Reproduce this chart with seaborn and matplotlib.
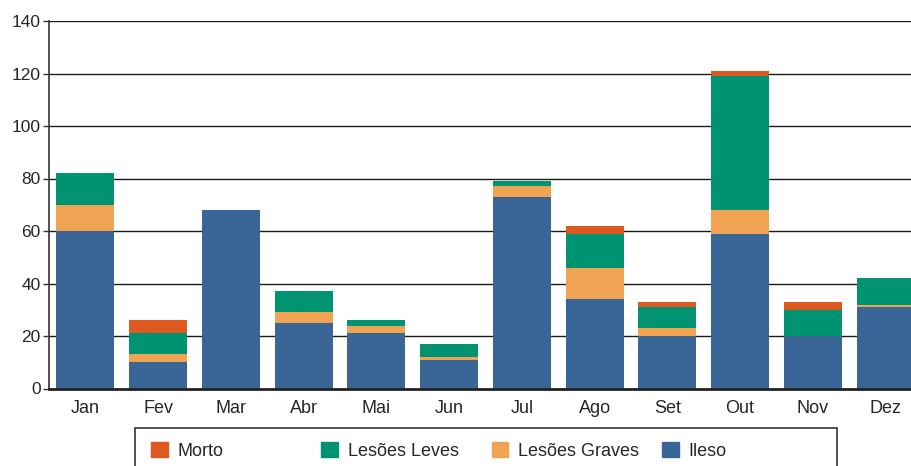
import matplotlib
matplotlib.use('Agg')

import numpy as np
import pandas as pd
import matplotlib.pyplot as plt
import seaborn as sns
from matplotlib.patches import Rectangle, Patch

meses = ['Jan', 'Fev', 'Mar', 'Abr', 'Mai', 'Jun',
         'Jul', 'Ago', 'Set', 'Out', 'Nov', 'Dez']
ileso = [60, 10, 68, 25, 21, 11, 73, 34, 20, 59, 20, 31]
lesoes_graves = [10, 3, 0, 4, 3, 1, 4, 12, 3, 9, 0, 1]
lesoes_leves = [12, 8, 0, 8, 2, 5, 2, 13, 8, 51, 10, 10]
morto = [0, 5, 0, 0, 0, 0, 0, 3, 2, 2, 3, 0]

cores = {'Morto': '#dd5920', 'Lesões Leves': '#009371',
         'Lesões Graves': '#efa353', 'Ileso': '#3a6597'}

sns.set_style('white')
plt.rcParams['font.family'] = ['Liberation Sans', 'DejaVu Sans']

# cumulative heights, drawn tallest first so each layer shows through
df = pd.DataFrame({'mes': meses})
df['Ileso'] = np.array(ileso)
df['Lesões Graves'] = df['Ileso'] + np.array(lesoes_graves)
df['Lesões Leves'] = df['Lesões Graves'] + np.array(lesoes_leves)
df['Morto'] = df['Lesões Leves'] + np.array(morto)

fig = plt.figure(figsize=(9.11, 4.66), dpi=100)
ax = fig.add_axes([49 / 911, 1 - 388.5 / 466, 873 / 911, 367.5 / 466])

for serie in ['Morto', 'Lesões Leves', 'Lesões Graves', 'Ileso']:
    sns.barplot(data=df, x='mes', y=serie, color=cores[serie], width=0.8,
                saturation=1, linewidth=0, ax=ax)

ax.set_ylim(0, 140)
ax.set_xlim(-0.5, 11.5)
ax.set_yticks(range(0, 141, 20))
ax.set_axisbelow(True)
ax.yaxis.grid(True, color='#1a1a1a', linewidth=1)
ax.set_xlabel('')
ax.set_ylabel('')
for s in ['top', 'right']:
    ax.spines[s].set_visible(False)
ax.spines['left'].set_color('#333333')
ax.spines['left'].set_linewidth(1.2)
ax.spines['bottom'].set_color('#222222')
ax.spines['bottom'].set_linewidth(2)
ax.tick_params(axis='y', length=4, width=1, color='#333333', labelsize=12.5,
               pad=2, left=True)
ax.tick_params(axis='x', length=0, labelsize=13, pad=8)

# legend box with four evenly spaced entries
caixa = Rectangle((135 / 911, -0.02), 702 / 911, (466 - 428) / 466 + 0.02,
                  transform=fig.transFigure, fill=False, edgecolor='#333333',
                  linewidth=1.2)
fig.add_artist(caixa)
for i, serie in enumerate(['Morto', 'Lesões Leves', 'Lesões Graves', 'Ileso']):
    x0 = (151 + 170.3 * i) / 911
    fig.legend(handles=[Patch(color=cores[serie], label=serie)],
               loc='center left', bbox_to_anchor=(x0, 1 - 451 / 466),
               frameon=False, fontsize=13, handlelength=0.93,
               handleheight=0.93, handletextpad=0.55, borderpad=0,
               borderaxespad=0)

fig.savefig('out.png', dpi=100)
